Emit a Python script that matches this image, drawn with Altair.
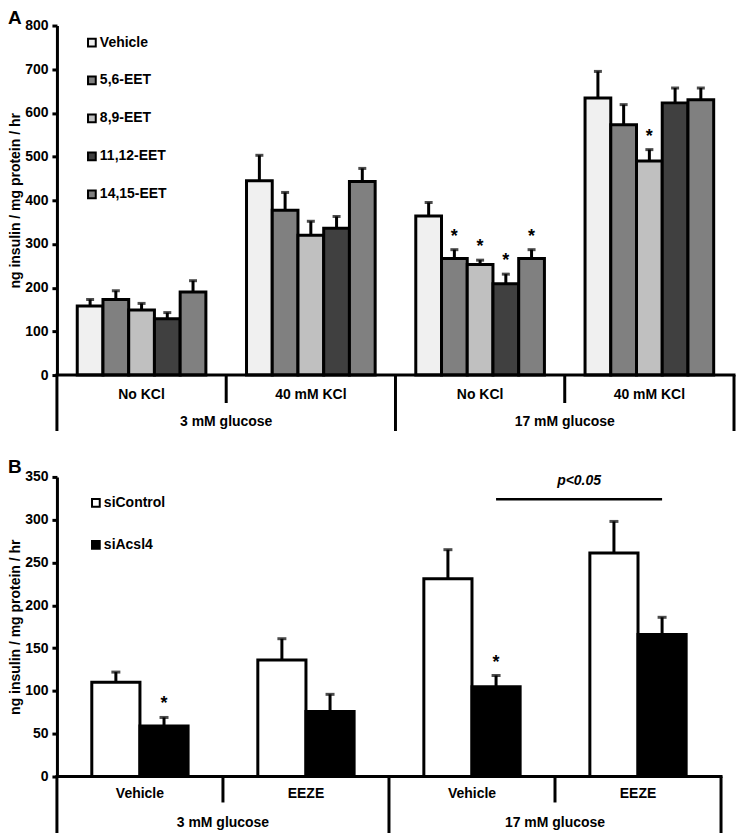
import altair as alt
import pandas as pd

FONT = "Liberation Sans"
YTITLE = "ng insulin / mg protein / hr"

# ---------------- Panel A data ----------------
A_groups = ["3mM|NoKCl", "3mM|40KCl", "17mM|NoKCl", "17mM|40KCl"]
A_tier1 = ["No KCl", "40 mM KCl", "No KCl", "40 mM KCl"]
A_tier2 = ["3 mM glucose", "17 mM glucose"]
A_series = ["Vehicle", "5,6-EET", "8,9-EET", "11,12-EET", "14,15-EET"]
A_colors = ["#f0f0f0", "#808080", "#c0c0c0", "#404040", "#808080"]
A_mean = {
    "Vehicle":   [158, 445, 364, 634],
    "5,6-EET":   [173, 377, 267, 573],
    "8,9-EET":   [149, 320, 253, 490],
    "11,12-EET": [129, 336, 209, 623],
    "14,15-EET": [190, 443, 267, 630],
}
A_sem = {
    "Vehicle":   [15, 58, 31, 61],
    "5,6-EET":   [20, 41, 20, 46],
    "8,9-EET":   [15, 32, 10, 26],
    "11,12-EET": [14, 27, 22, 34],
    "14,15-EET": [26, 30, 20, 27],
}
A_stars = [(2, "5,6-EET"), (2, "8,9-EET"), (2, "11,12-EET"), (2, "14,15-EET"), (3, "8,9-EET")]

# ---------------- Panel B data ----------------
B_groups = ["3mM|Vehicle", "3mM|EEZE", "17mM|Vehicle", "17mM|EEZE"]
B_tier1 = ["Vehicle", "EEZE", "Vehicle", "EEZE"]
B_tier2 = ["3 mM glucose", "17 mM glucose"]
B_series = ["siControl", "siAcsl4"]
B_colors = ["#ffffff", "#000000"]
B_mean = {"siControl": [110, 136, 231, 261], "siAcsl4": [59, 76, 105, 166]}
B_sem = {"siControl": [12, 25, 34, 37], "siAcsl4": [10, 20, 13, 20]}
B_stars = [(0, "siAcsl4"), (2, "siAcsl4")]
B_sig = {"from": 2, "to": 3, "series": "siAcsl4", "line": 324, "text_y": 345, "label": "p<0.05"}


def panel(letter, groups, tier1, tier2, series, colors, mean, sem, stars,
          ymax, ystep, W, H, pad_inner, leg_x, leg_y, leg_rowpad,
          t1_dy, t2_dy, short_dy, long_dy, letter_y, cap_size, sig=None):
    rows = []
    for s in series:
        for i, g in enumerate(groups):
            m = mean[s][i]
            rows.append(dict(group=g, series=s, mean=m, top=m + sem[s][i],
                             star=(i, s) in stars))
    df = pd.DataFrame(rows)

    xs = alt.Scale(domain=groups, paddingInner=pad_inner, paddingOuter=pad_inner / 2)
    X = alt.X("group:N", scale=xs, axis=None, sort=groups)
    XO = alt.XOffset("series:N", sort=series,
                     scale=alt.Scale(domain=series, paddingInner=0, paddingOuter=0))
    yscale = alt.Scale(domain=[0, ymax], nice=False, zero=True)
    yaxis = alt.Axis(values=list(range(0, ymax + 1, ystep)), grid=False,
                     domainColor="black", domainWidth=3, tickColor="black",
                     tickWidth=3, tickSize=5, labelFont=FONT, labelFontSize=14,
                     labelFontWeight="bold", labelColor="black", labelPadding=4,
                     titleFont=FONT, titleFontSize=14, titleFontWeight="bold",
                     titleColor="black", titlePadding=2, labelOverlap=False)

    def Y(field):
        return alt.Y(f"{field}:Q", scale=yscale, axis=yaxis, title=YTITLE)

    base = alt.Chart(df)
    bars = base.mark_bar(stroke="black", strokeWidth=3).encode(
        X, XO, Y("mean"),
        fill=alt.Fill("series:N", sort=series,
                      scale=alt.Scale(domain=series, range=colors),
                      legend=alt.Legend(orient="none", legendX=leg_x, legendY=leg_y,
                                        title=None, symbolType="square", symbolSize=60,
                                        symbolStrokeColor="black", symbolStrokeWidth=2,
                                        labelFont=FONT, labelFontSize=14,
                                        labelFontWeight="bold", labelColor="black",
                                        rowPadding=leg_rowpad, labelOffset=1, padding=0,
                                        direction="vertical")))
    err = base.mark_rule(color="black", strokeWidth=3).encode(X, XO, Y("mean"), y2="top:Q")
    caps = base.mark_tick(color="black", thickness=3, size=cap_size).encode(X, XO, Y("top"))
    star = base.transform_filter("datum.star").mark_text(
        text="*", fontSize=18, fontWeight="bold", font=FONT, color="black",
        baseline="middle", dy=-13).encode(X, XO, Y("top"))
    data_layers = [bars, err, caps, star]

    if sig is not None:
        n_s = len(series)
        step = W / len(groups)
        bar_w = step * (1 - pad_inner) / n_s
        k = series.index(sig["series"])
        off = -step * (1 - pad_inner) / 2 + bar_w * (k + 0.5)
        sdf = pd.DataFrame({"g1": [groups[sig["from"]]], "g2": [groups[sig["to"]]],
                            "line": [sig["line"]], "ty": [sig["text_y"]],
                            "label": [sig["label"]]})
        XG = alt.X("g1:N", scale=xs, axis=None, sort=groups)
        sig_rule = alt.Chart(sdf).mark_rule(color="black", strokeWidth=2.5,
                                            xOffset=off, x2Offset=off).encode(
            XG, x2="g2:N", y=Y("line"))
        sig_text = alt.Chart(sdf).mark_text(
            fontSize=14, fontWeight="bold", fontStyle="italic", font=FONT,
            color="black", baseline="middle",
            dx=off + step * (sig["to"] - sig["from"]) / 2).encode(
            XG, y=Y("ty"), text="label:N")
        data_layers += [sig_rule, sig_text]

    data_layer = alt.layer(*data_layers)

    n = len(groups)
    QX = alt.X("pos:Q", scale=alt.Scale(domain=[0, n], nice=False, zero=False), axis=None)
    line_style = dict(color="black", strokeWidth=3)
    baseline = alt.Chart(pd.DataFrame({"pos": [0], "end": [n]})).mark_rule(
        strokeCap="square", **line_style).encode(QX, x2="end:Q", y=alt.value(H))
    long_sep = alt.Chart(pd.DataFrame({"pos": list(range(0, n + 1, 2))})).mark_rule(
        **line_style).encode(QX, y=alt.value(H), y2=alt.value(H + long_dy))
    short_sep = alt.Chart(pd.DataFrame({"pos": list(range(1, n, 2))})).mark_rule(
        **line_style).encode(QX, y=alt.value(H), y2=alt.value(H + short_dy))
    t1 = alt.Chart(pd.DataFrame({"pos": [i + 0.5 for i in range(n)], "label": tier1})).mark_text(
        fontSize=14, fontWeight="bold", font=FONT, color="black", baseline="middle").encode(
        QX, y=alt.value(H + t1_dy), text="label:N")
    t2 = alt.Chart(pd.DataFrame({"pos": [1 + 2 * i for i in range(len(tier2))], "label": tier2})).mark_text(
        fontSize=14, fontWeight="bold", font=FONT, color="black", baseline="middle").encode(
        QX, y=alt.value(H + t2_dy), text="label:N")
    let = alt.Chart(pd.DataFrame({"t": [letter]})).mark_text(
        fontSize=19, fontWeight="bold", font=FONT, color="black",
        align="left", baseline="top").encode(
        x=alt.value(-49), y=alt.value(letter_y), text="t:N")
    axis_layer = alt.layer(baseline, long_sep, short_sep, t1, t2, let)

    return alt.layer(data_layer, axis_layer).resolve_scale(x="independent").properties(
        width=W, height=H)


chartA = panel("A", A_groups, A_tier1, A_tier2, A_series, A_colors, A_mean, A_sem, A_stars,
               ymax=800, ystep=100, W=678, H=350, pad_inner=0.24,
               leg_x=28, leg_y=10, leg_rowpad=22,
               t1_dy=20, t2_dy=47, short_dy=28, long_dy=56, letter_y=-17, cap_size=8)
chartB = panel("B", B_groups, B_tier1, B_tier2, B_series, B_colors, B_mean, B_sem, B_stars,
               ymax=350, ystep=50, W=665, H=300, pad_inner=0.42,
               leg_x=32, leg_y=19, leg_rowpad=26,
               t1_dy=18, t2_dy=47, short_dy=26, long_dy=57, letter_y=-19, cap_size=9,
               sig=B_sig)

chart = alt.vconcat(chartA, chartB, spacing=25).resolve_scale(
    fill="independent", xOffset="independent").resolve_legend(
    fill="independent").properties(padding=0).configure(
    font=FONT).configure_view(stroke=None)

chart.save("out.html", embed_options={"renderer": "svg", "actions": False})
